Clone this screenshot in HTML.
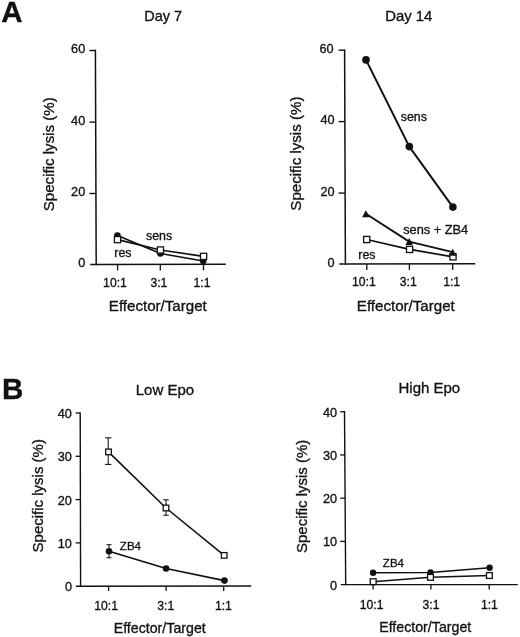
<!DOCTYPE html>
<html><head><meta charset="utf-8"><style>
html,body{margin:0;padding:0;background:#fff;}
body{width:520px;height:637px;overflow:hidden;}
svg{display:block;filter:grayscale(1) blur(0.3px);}
text{stroke:#111;stroke-width:0.32px;paint-order:stroke;font-family:"Liberation Sans",sans-serif;}
</style></head><body>
<svg width="520" height="637" viewBox="0 0 520 637">
<rect width="520" height="637" fill="#fff"/>
<text x="1.23" y="21.88" font-size="29.5" font-weight="bold" fill="#111">A</text>
<text x="144.19" y="21.33" font-size="14.5" fill="#111">Day 7</text>
<line x1="95.4" y1="49.8" x2="96.2" y2="265.2" stroke="#111" stroke-width="1.5"/>
<line x1="89.5" y1="50.5" x2="95.6" y2="50.5" stroke="#111" stroke-width="1.4"/>
<text x="71.08" y="53.28" font-size="12.7" fill="#111">60</text>
<line x1="89.5" y1="122.1" x2="95.6" y2="122.1" stroke="#111" stroke-width="1.4"/>
<text x="71.08" y="124.88" font-size="12.7" fill="#111">40</text>
<line x1="89.5" y1="193.5" x2="95.6" y2="193.5" stroke="#111" stroke-width="1.4"/>
<text x="71.08" y="196.28" font-size="12.7" fill="#111">20</text>
<text x="78.20" y="267.28" font-size="12.7" fill="#111">0</text>
<line x1="90.2" y1="264.6" x2="225.8" y2="264.3" stroke="#111" stroke-width="1.5"/>
<line x1="117.6" y1="264.5" x2="117.6" y2="270.4" stroke="#111" stroke-width="1.3"/>
<text x="103.12" y="286.51" font-size="12.2" fill="#111">10:1</text>
<line x1="160.3" y1="264.5" x2="160.3" y2="270.4" stroke="#111" stroke-width="1.3"/>
<text x="150.38" y="286.51" font-size="12.2" fill="#111">3:1</text>
<line x1="203.5" y1="264.5" x2="203.5" y2="270.4" stroke="#111" stroke-width="1.3"/>
<text x="193.54" y="286.51" font-size="12.2" fill="#111">1:1</text>
<text x="108.87" y="311.25" font-size="15.1" fill="#111">Effector/Target</text>
<text x="-6.88" y="158.20" font-size="15.1" fill="#111" transform="rotate(-90 50.05 154.35)">Specific lysis (%)</text>
<polyline points="117.4,235.5 160.4,253.5 203.2,261.0" fill="none" stroke="#111" stroke-width="1.6" stroke-linejoin="round"/>
<polyline points="117.5,239.6 160.4,250.0 203.6,256.4" fill="none" stroke="#111" stroke-width="1.6" stroke-linejoin="round"/>
<circle cx="117.4" cy="235.5" r="3.3" fill="#111"/>
<circle cx="160.4" cy="253.5" r="3.3" fill="#111"/>
<circle cx="203.2" cy="261.0" r="3.3" fill="#111"/>
<rect x="114.40" y="236.50" width="6.2" height="6.2" fill="#fff" stroke="#111" stroke-width="1.3"/>
<rect x="157.30" y="246.90" width="6.2" height="6.2" fill="#fff" stroke="#111" stroke-width="1.3"/>
<rect x="200.50" y="253.30" width="6.2" height="6.2" fill="#fff" stroke="#111" stroke-width="1.3"/>
<text x="146.03" y="240.04" font-size="12.4" fill="#111">sens</text>
<text x="114.35" y="256.84" font-size="12.4" fill="#111">res</text>
<text x="385.21" y="21.43" font-size="14.9" fill="#111">Day 14</text>
<line x1="344.6" y1="49.5" x2="345.4" y2="264.7" stroke="#111" stroke-width="1.5"/>
<line x1="338.6" y1="50.2" x2="345" y2="50.2" stroke="#111" stroke-width="1.4"/>
<text x="319.38" y="53.28" font-size="12.7" fill="#111">60</text>
<line x1="338.6" y1="121.6" x2="345" y2="121.6" stroke="#111" stroke-width="1.4"/>
<text x="320.48" y="124.38" font-size="12.7" fill="#111">40</text>
<line x1="338.6" y1="193.1" x2="345" y2="193.1" stroke="#111" stroke-width="1.4"/>
<text x="320.48" y="195.88" font-size="12.7" fill="#111">20</text>
<text x="327.60" y="266.78" font-size="12.7" fill="#111">0</text>
<line x1="339.3" y1="264.0" x2="475.2" y2="263.8" stroke="#111" stroke-width="1.5"/>
<line x1="366.8" y1="263.9" x2="366.8" y2="270.0" stroke="#111" stroke-width="1.3"/>
<text x="352.07" y="285.91" font-size="12.2" fill="#111">10:1</text>
<line x1="409.4" y1="263.9" x2="409.4" y2="270.0" stroke="#111" stroke-width="1.3"/>
<text x="399.78" y="285.91" font-size="12.2" fill="#111">3:1</text>
<line x1="452.7" y1="263.9" x2="452.7" y2="270.0" stroke="#111" stroke-width="1.3"/>
<text x="443.14" y="285.91" font-size="12.2" fill="#111">1:1</text>
<text x="356.87" y="311.25" font-size="15.1" fill="#111">Effector/Target</text>
<text x="239.87" y="157.55" font-size="15.1" fill="#111" transform="rotate(-90 296.80 153.70)">Specific lysis (%)</text>
<polyline points="366,59.9 409.3,146.6 452.9,207.1" fill="none" stroke="#111" stroke-width="2.0" stroke-linejoin="round"/>
<polyline points="365.9,213.8 409.2,241.6 452.7,252.2" fill="none" stroke="#111" stroke-width="1.9" stroke-linejoin="round"/>
<polyline points="366.7,239.5 409.6,249.4 453,256.8" fill="none" stroke="#111" stroke-width="1.7" stroke-linejoin="round"/>
<circle cx="366" cy="59.9" r="3.8" fill="#111"/>
<circle cx="409.3" cy="146.6" r="3.8" fill="#111"/>
<circle cx="452.9" cy="207.1" r="3.8" fill="#111"/>
<rect x="363.60" y="236.40" width="6.2" height="6.2" fill="#fff" stroke="#111" stroke-width="1.3"/>
<rect x="406.50" y="246.30" width="6.2" height="6.2" fill="#fff" stroke="#111" stroke-width="1.3"/>
<rect x="449.90" y="253.70" width="6.2" height="6.2" fill="#fff" stroke="#111" stroke-width="1.3"/>
<polygon points="362.10,217.30 369.70,217.30 365.90,210.30" fill="#111"/>
<polygon points="405.40,245.10 413.00,245.10 409.20,238.10" fill="#111"/>
<polygon points="448.90,255.70 456.50,255.70 452.70,248.70" fill="#111"/>
<text x="400.78" y="121.09" font-size="12.4" fill="#111">sens</text>
<text x="403.17" y="234.05" font-size="12.8" fill="#111">sens + ZB4</text>
<text x="358.35" y="258.84" font-size="12.4" fill="#111">res</text>
<text x="2.09" y="399.28" font-size="29.5" font-weight="bold" fill="#111">B</text>
<text x="135.72" y="394.90" font-size="15" fill="#111">Low Epo</text>
<line x1="80.2" y1="412.4" x2="80.6" y2="586.8" stroke="#111" stroke-width="1.4"/>
<line x1="75.6" y1="413.0" x2="80.4" y2="413.0" stroke="#111" stroke-width="1.3"/>
<text x="57.78" y="418.18" font-size="12.7" fill="#111">40</text>
<line x1="75.6" y1="456.3" x2="80.4" y2="456.3" stroke="#111" stroke-width="1.3"/>
<text x="57.78" y="461.48" font-size="12.7" fill="#111">30</text>
<line x1="75.6" y1="499.6" x2="80.4" y2="499.6" stroke="#111" stroke-width="1.3"/>
<text x="57.78" y="504.78" font-size="12.7" fill="#111">20</text>
<line x1="75.6" y1="542.9" x2="80.4" y2="542.9" stroke="#111" stroke-width="1.3"/>
<text x="57.78" y="548.08" font-size="12.7" fill="#111">10</text>
<text x="64.90" y="591.38" font-size="12.7" fill="#111">0</text>
<line x1="75.8" y1="586.2" x2="251.2" y2="586.0" stroke="#111" stroke-width="1.4"/>
<line x1="108.6" y1="586.2" x2="108.6" y2="591" stroke="#111" stroke-width="1.3"/>
<text x="94.22" y="609.81" font-size="12.2" fill="#111">10:1</text>
<line x1="166.1" y1="586.2" x2="166.1" y2="591" stroke="#111" stroke-width="1.3"/>
<text x="157.28" y="609.81" font-size="12.2" fill="#111">3:1</text>
<line x1="223.7" y1="586.2" x2="223.7" y2="591" stroke="#111" stroke-width="1.3"/>
<text x="214.94" y="609.81" font-size="12.2" fill="#111">1:1</text>
<text x="113.72" y="632.52" font-size="14.2" fill="#111">Effector/Target</text>
<text x="-17.75" y="499.72" font-size="15.0" fill="#111" transform="rotate(-90 38.80 495.90)">Specific lysis (%)</text>
<line x1="108.2" y1="437.8" x2="108.2" y2="464.4" stroke="#111" stroke-width="1.05"/>
<line x1="104.95" y1="437.8" x2="111.45" y2="437.8" stroke="#111" stroke-width="1.05"/>
<line x1="104.95" y1="464.4" x2="111.45" y2="464.4" stroke="#111" stroke-width="1.05"/>
<line x1="166" y1="499.8" x2="166" y2="515.2" stroke="#111" stroke-width="1.05"/>
<line x1="163.25" y1="499.8" x2="168.75" y2="499.8" stroke="#111" stroke-width="1.05"/>
<line x1="163.25" y1="515.2" x2="168.75" y2="515.2" stroke="#111" stroke-width="1.05"/>
<line x1="109" y1="544.7" x2="109" y2="557.7" stroke="#111" stroke-width="1.05"/>
<line x1="106.5" y1="544.7" x2="111.5" y2="544.7" stroke="#111" stroke-width="1.05"/>
<line x1="106.5" y1="557.7" x2="111.5" y2="557.7" stroke="#111" stroke-width="1.05"/>
<polyline points="108.5,451.9 166,508 224.2,555.4" fill="none" stroke="#111" stroke-width="1.6" stroke-linejoin="round"/>
<polyline points="109,551.2 166.1,568.5 224.5,580.6" fill="none" stroke="#111" stroke-width="1.6" stroke-linejoin="round"/>
<circle cx="109" cy="551.2" r="3.3" fill="#111"/>
<circle cx="166.1" cy="568.5" r="3.3" fill="#111"/>
<circle cx="224.5" cy="580.6" r="3.3" fill="#111"/>
<rect x="105.70" y="449.10" width="5.6" height="5.6" fill="#fff" stroke="#111" stroke-width="1.3"/>
<rect x="163.20" y="505.20" width="5.6" height="5.6" fill="#fff" stroke="#111" stroke-width="1.3"/>
<rect x="221.40" y="552.60" width="5.6" height="5.6" fill="#fff" stroke="#111" stroke-width="1.3"/>
<text x="119.87" y="549.82" font-size="11.5" fill="#111">ZB4</text>
<text x="398.48" y="393.02" font-size="15" fill="#111">High Epo</text>
<line x1="344.5" y1="411" x2="345.7" y2="585.2" stroke="#111" stroke-width="1.4"/>
<line x1="340.2" y1="411.7" x2="345" y2="411.7" stroke="#111" stroke-width="1.3"/>
<text x="322.98" y="416.78" font-size="12.7" fill="#111">40</text>
<line x1="340.2" y1="454.93" x2="345" y2="454.93" stroke="#111" stroke-width="1.3"/>
<text x="322.98" y="460.01" font-size="12.7" fill="#111">30</text>
<line x1="340.2" y1="498.15999999999997" x2="345" y2="498.15999999999997" stroke="#111" stroke-width="1.3"/>
<text x="322.98" y="503.24" font-size="12.7" fill="#111">20</text>
<line x1="340.2" y1="541.39" x2="345" y2="541.39" stroke="#111" stroke-width="1.3"/>
<text x="322.98" y="546.47" font-size="12.7" fill="#111">10</text>
<text x="330.10" y="589.70" font-size="12.7" fill="#111">0</text>
<line x1="340.8" y1="584.6" x2="517.7" y2="584.6" stroke="#111" stroke-width="1.4"/>
<line x1="373.1" y1="584.6" x2="373.1" y2="589.5" stroke="#111" stroke-width="1.3"/>
<text x="359.72" y="609.11" font-size="12.2" fill="#111">10:1</text>
<line x1="430.9" y1="584.6" x2="430.9" y2="589.5" stroke="#111" stroke-width="1.3"/>
<text x="422.58" y="609.11" font-size="12.2" fill="#111">3:1</text>
<line x1="489.2" y1="584.6" x2="489.2" y2="589.5" stroke="#111" stroke-width="1.3"/>
<text x="480.94" y="609.11" font-size="12.2" fill="#111">1:1</text>
<text x="379.22" y="631.92" font-size="14.2" fill="#111">Effector/Target</text>
<text x="247.05" y="500.32" font-size="15.0" fill="#111" transform="rotate(-90 303.60 496.50)">Specific lysis (%)</text>
<polyline points="373.1,572.8 430.5,572.5 489.6,567.7" fill="none" stroke="#111" stroke-width="1.6" stroke-linejoin="round"/>
<polyline points="373.2,581.7 430.5,577.3 489.4,575.5" fill="none" stroke="#111" stroke-width="1.6" stroke-linejoin="round"/>
<circle cx="373.1" cy="572.8" r="3.2" fill="#111"/>
<circle cx="430.5" cy="572.5" r="3.2" fill="#111"/>
<circle cx="489.6" cy="567.7" r="3.2" fill="#111"/>
<rect x="370.30" y="578.80" width="5.8" height="5.8" fill="#fff" stroke="#111" stroke-width="1.3"/>
<rect x="427.60" y="574.40" width="5.8" height="5.8" fill="#fff" stroke="#111" stroke-width="1.3"/>
<rect x="486.50" y="572.60" width="5.8" height="5.8" fill="#fff" stroke="#111" stroke-width="1.3"/>
<text x="382.87" y="567.02" font-size="11.5" fill="#111">ZB4</text>
</svg>
</body></html>
